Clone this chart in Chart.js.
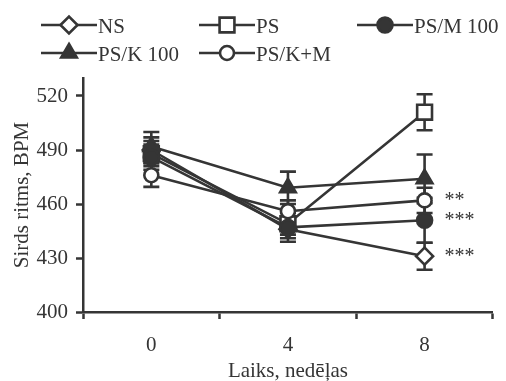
<!DOCTYPE html>
<html><head><meta charset="utf-8">
<script src="https://cdn.jsdelivr.net/npm/chart.js@4"></script>
<style>html,body{margin:0;padding:0;background:#fff}</style>
</head><body>
<canvas id="c" width="506" height="381" style="width:506px;height:381px;display:block"></canvas>
<script>
// ---- data ----
const weeks = ["0", "4", "8"];
const seriesNames = ["NS", "PS", "PS/M 100", "PS/K 100", "PS/K+M"];
const nsValues     = [490, 446, 431];
const psValues     = [488, 449, 511];
const psm100Values = [486, 447, 451];
const psk100Values = [492, 469, 474];
const pskmValues   = [476, 456, 462];
const nsErrors     = [7, 7, 7.5];
const psErrors     = [7, 6, 10];
const psm100Errors = [7, 6, 12.5];
const psk100Errors = [8, 9, 13.5];
const pskmErrors   = [6.5, 6, 7];
const week8Stars   = ["***", "", "***", "", "**"];
const yTickValues  = [400, 430, 460, 490, 520];

// ---- styles ----
const INK = '#353535';
const FONT = "'Liberation Serif', 'Times New Roman', serif";
const styles = [
  {pointStyle: 'rectRot', radius: 8.5, fill: '#fff', order: 3},
  {pointStyle: 'rect', radius: 10.5, fill: '#fff', order: 4},
  {pointStyle: 'circle', radius: 7.5, fill: INK, order: 1},
  {pointStyle: 'triangle', radius: 9, fill: INK, order: 2},
  {pointStyle: 'circle', radius: 7, fill: '#fff', order: 0}
];
const valuesList = [nsValues, psValues, psm100Values, psk100Values, pskmValues];
const errorsList = [nsErrors, psErrors, psm100Errors, psk100Errors, pskmErrors];

const datasets = seriesNames.map((name, i) => ({
  label: name,
  data: valuesList[i],
  errors: errorsList[i],
  star: week8Stars[i],
  order: styles[i].order,
  borderColor: INK,
  borderWidth: 2.6,
  pointStyle: styles[i].pointStyle,
  pointRadius: styles[i].radius,
  pointHoverRadius: styles[i].radius,
  pointBackgroundColor: styles[i].fill,
  pointBorderColor: INK,
  pointBorderWidth: 2.6,
  tension: 0,
  fill: false
}));

function drawMarker(ctx, style, x, y) {
  const r = style.radius;
  ctx.save();
  ctx.fillStyle = style.fill;
  ctx.strokeStyle = INK;
  ctx.lineWidth = 2.6;
  ctx.beginPath();
  if (style.pointStyle === 'circle') {
    ctx.arc(x, y, r, 0, Math.PI * 2);
  } else if (style.pointStyle === 'rect') {
    const s = r * Math.SQRT1_2;
    ctx.rect(x - s, y - s, 2 * s, 2 * s);
  } else if (style.pointStyle === 'rectRot') {
    ctx.moveTo(x - r, y); ctx.lineTo(x, y - r); ctx.lineTo(x + r, y); ctx.lineTo(x, y + r); ctx.closePath();
  } else if (style.pointStyle === 'triangle') {
    const k = Math.sin(Math.PI / 3);
    ctx.moveTo(x, y - r);
    ctx.lineTo(x + r * k, y + r * 0.5);
    ctx.lineTo(x - r * k, y + r * 0.5);
    ctx.closePath();
  }
  ctx.fill();
  ctx.stroke();
  ctx.restore();
}

const errorBars = {
  id: 'errorBars',
  beforeDatasetsDraw(chart) {
    const ctx = chart.ctx, xs = chart.scales.x, ys = chart.scales.y;
    ctx.save();
    ctx.strokeStyle = INK;
    ctx.lineWidth = 2.6;
    chart.data.datasets.forEach(ds => {
      ds.data.forEach((v, j) => {
        const e = ds.errors[j];
        const px = xs.getPixelForValue(j);
        const top = ys.getPixelForValue(v + e), bot = ys.getPixelForValue(v - e);
        ctx.beginPath();
        ctx.moveTo(px, top); ctx.lineTo(px, bot);
        ctx.moveTo(px - 8, top); ctx.lineTo(px + 8, top);
        ctx.moveTo(px - 8, bot); ctx.lineTo(px + 8, bot);
        ctx.stroke();
      });
    });
    ctx.restore();
  },
  afterDatasetsDraw(chart) {
    const ctx = chart.ctx, xs = chart.scales.x, ys = chart.scales.y;
    ctx.save();
    ctx.fillStyle = INK;
    ctx.font = "20px " + FONT;
    ctx.textAlign = 'left';
    ctx.textBaseline = 'alphabetic';
    chart.data.datasets.forEach(ds => {
      if (!ds.star) return;
      const last = ds.data.length - 1;
      ctx.fillText(ds.star, xs.getPixelForValue(last) + 20, ys.getPixelForValue(ds.data[last]) + 6);
    });
    ctx.restore();
  }
};

const customLegend = {
  id: 'customLegend',
  afterDraw(chart) {
    const ctx = chart.ctx;
    const slots = [[41, 25], [199, 25], [357, 25], [41, 53], [199, 53]];
    ctx.save();
    ctx.font = "21px " + FONT;
    ctx.textBaseline = 'middle';
    ctx.textAlign = 'left';
    seriesNames.forEach((name, i) => {
      const [x0, y0] = slots[i];
      ctx.strokeStyle = INK;
      ctx.lineWidth = 2.6;
      ctx.beginPath(); ctx.moveTo(x0, y0); ctx.lineTo(x0 + 56, y0); ctx.stroke();
      drawMarker(ctx, styles[i], x0 + 28, y0);
      ctx.fillStyle = INK;
      ctx.fillText(name, x0 + 57, y0 + 2);
    });
    ctx.restore();
  }
};

new Chart(document.getElementById('c'), {
  type: 'line',
  data: {labels: weeks, datasets},
  plugins: [errorBars, customLegend],
  options: {
    responsive: false,
    animation: false,
    layout: {padding: {top: 78, right: 12, left: 0, bottom: 0}},
    plugins: {legend: {display: false}, tooltip: {enabled: false}},
    scales: {
      x: {
        type: 'category',
        offset: true,
        afterFit(s) { s.height = 69; },
        grid: {display: true, offset: true, drawOnChartArea: false, tickLength: 7, tickWidth: 2.5, tickColor: INK, color: INK},
        border: {display: true, color: INK, width: 2.5},
        ticks: {color: INK, padding: 14, font: {family: FONT, size: 21}},
        title: {display: true, text: 'Laiks, nedēļas', color: INK, font: {family: FONT, size: 21, lineHeight: 0.9}, padding: {top: 0, bottom: 0}}
      },
      y: {
        min: 400, max: 530,
        afterFit(s) { s.width = 83; },
        afterBuildTicks(s) { s.ticks = yTickValues.map(v => ({value: v})); },
        grid: {display: true, drawOnChartArea: false, tickLength: 7, tickWidth: 2.5, tickColor: INK, color: INK},
        border: {display: true, color: INK, width: 2.5},
        ticks: {color: INK, padding: 8, font: {family: FONT, size: 21}},
        title: {display: true, text: 'Sirds ritms, BPM', color: INK, font: {family: FONT, size: 21, lineHeight: 1.2}, padding: {top: 10, bottom: 0}}
      }
    }
  }
});
</script>
</body></html>
